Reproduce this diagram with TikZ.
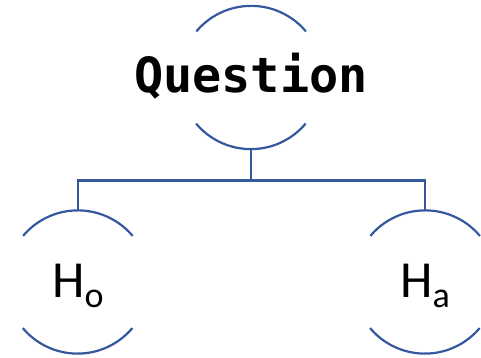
\documentclass[tikz,border=0pt]{standalone}
\usepackage{fontspec}
\setmainfont{Carlito}
\newfontfamily\qmono{DejaVu Sans Mono}
\definecolor{linkblue}{RGB}{52,88,158}
\begin{document}
\begin{tikzpicture}[x=1pt,y=1pt,
  hole/.style={circle,minimum size=143pt,inner sep=0pt,draw=none},
  arcline/.style={draw=linkblue,line width=2.2pt},
  link/.style={draw=linkblue,line width=2.2pt}]
\useasboundingbox (0,0) rectangle (481,358);
\node[hole] (q) at (251,280.5) {};
\node[hole] (ho) at (77.7,76) {};
\node[hole] (ha) at (425,76) {};
\foreach \n in {q,ho,ha}{
  \draw[arcline] (\n.40) arc[start angle=40,end angle=140,radius=71.5pt];
  \draw[arcline] (\n.220) arc[start angle=220,end angle=320,radius=71.5pt];
}
\node[anchor=base,inner sep=0pt] (qt) at (251,265) {\qmono\bfseries\fontsize{48.5}{48.5}\selectfont Question};
\node[anchor=base,inner sep=0pt] (hot) at (78,60.3) {\fontsize{52}{52}\selectfont H\raisebox{-10pt}{\fontsize{36}{36}\selectfont o}};
\node[anchor=base,inner sep=0pt] (hat) at (425,60.3) {\fontsize{52}{52}\selectfont H\raisebox{-10pt}{\fontsize{36}{36}\selectfont a}};
\coordinate (j) at (251,177.5);
\draw[link] (q.south) -- (j) -| (ho.north);
\draw[link] (j) -| (ha.north);
\end{tikzpicture}
\end{document}
